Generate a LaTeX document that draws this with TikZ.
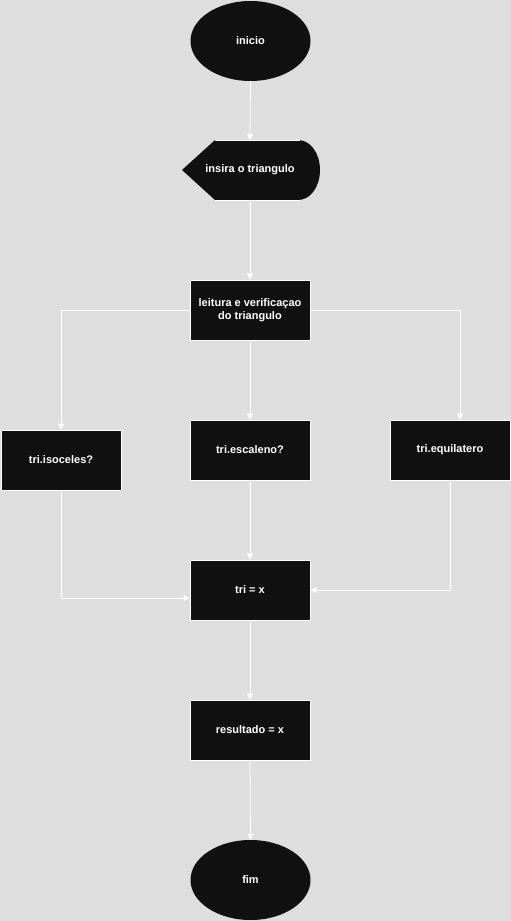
\documentclass[tikz,border=0pt]{standalone}
\usepackage{fontspec}
\setmainfont{Liberation Sans}
\usetikzlibrary{arrows.meta,shapes.geometric}
\definecolor{bg}{HTML}{DEDEDE}
\definecolor{boxfill}{HTML}{111111}
\begin{document}
\begin{tikzpicture}[x=1pt,y=-1pt,
  txt/.style={text=white,font=\fontsize{11}{13}\selectfont\bfseries,align=center},
  box/.style={txt,draw=white,line width=0.8pt,fill=boxfill,minimum width=120pt,minimum height=60pt,inner sep=0pt},
  oval/.style={txt,ellipse,fill=boxfill,minimum width=120pt,minimum height=80pt,inner sep=0pt},
  conn/.style={draw=white,line width=0.8pt,-{Triangle[width=6pt,length=6pt]}}]
\fill[bg] (0,0) rectangle (511,921);
\useasboundingbox (0,0) rectangle (511,921);
% nodes
\node[oval] (inicio) at (250.5,41) {inicio};
% display shape
\fill[boxfill] (182,170) -- (215,140) -- (298,140)
  .. controls (310.5,140) and (320,153.4) .. (320,170)
  .. controls (320,186.6) and (310.5,200) .. (298,200) -- (215,200) -- cycle;
\draw[white,line width=0.6pt] (215,140) -- (300,140) (215,200) -- (300,200);
\node[txt] (insira) at (250,170) {insira o triangulo};
\coordinate (insiraT) at (250,140);
\coordinate (insiraB) at (250,200);
\node[box] (leitura) at (250,310) {leitura e verificaçao\\do triangulo};
\node[box] (iso) at (61,460) {tri.isoceles?};
\node[box] (esc) at (250,450) {tri.escaleno?};
\node[box] (equi) at (450,450) {tri.equilatero};
\node[box] (tri) at (250,590) {tri = x};
\node[box] (res) at (250,730) {resultado = x};
\node[oval] (fim) at (250.5,880) {fim};
% connectors
\draw[conn] (inicio.south) -- (insiraT);
\draw[conn] (insiraB) -- (leitura.north);
\draw[conn] (leitura.west) -| (iso.north);
\draw[conn] (leitura.south) -- (esc.north);
\draw[conn] (leitura.east) -| ([xshift=10pt]equi.north);
\draw[conn] (iso.south) |- ([yshift=-8pt]tri.west);
\draw[conn] (esc.south) -- (tri.north);
\draw[conn] (equi.south) |- (tri.east);
\draw[conn] (tri.south) -- (res.north);
\draw[conn] (res.south) -- (fim.north);
\end{tikzpicture}
\end{document}
